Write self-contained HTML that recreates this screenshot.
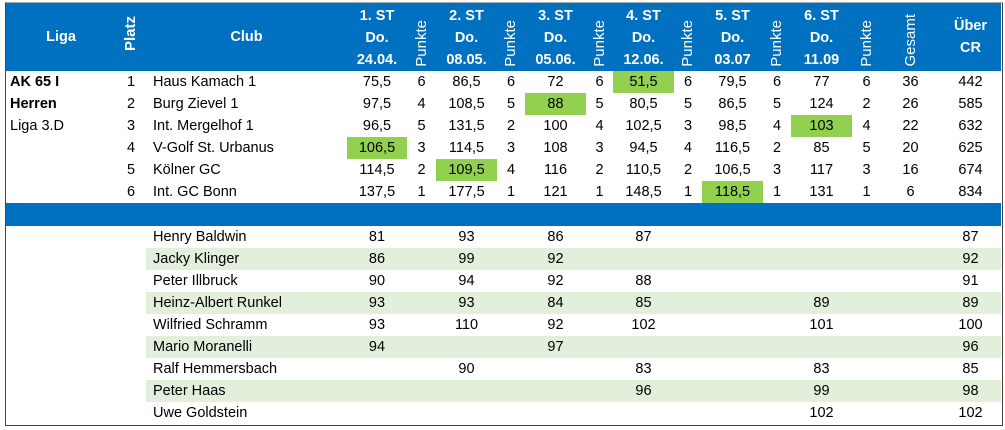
<!DOCTYPE html>
<html><head><meta charset="utf-8"><style>
body{margin:0;background:#fff;width:1005px;height:430px;overflow:hidden;font-family:"Liberation Sans",Arial,sans-serif;}
#f{position:absolute;left:5px;top:2px;width:996px;height:422px;border:1px solid #444;border-top-color:#aaa;}
table{position:absolute;left:6px;top:3px;border-collapse:collapse;table-layout:fixed;width:995px;font-size:14.5px;color:#000;}
td{padding:0;text-align:center;height:22px;line-height:22px;white-space:nowrap;overflow:hidden;}
tr.h td{background:#0070c0;color:#fff;font-weight:bold;height:68px;line-height:22px;vertical-align:bottom;overflow:hidden;}
.v{display:inline-block;writing-mode:vertical-rl;transform:rotate(180deg);font-weight:normal;font-size:15px;line-height:20px;white-space:nowrap;}
tr.h td.vc{vertical-align:middle;}
tr.h td.vb{vertical-align:bottom;padding-bottom:4px;line-height:0;height:64px;}
tr.b td{background:#0070c0;height:23px;}
td.l{text-align:left;padding-left:4px;}
td.c{text-align:left;padding-left:7px;}
.g{background:#92d050;}
tr.s td.x{background:#e2efda;}
</style></head><body>
<div id="f"></div>
<table>
<colgroup><col style="width:110px"><col style="width:30px"><col style="width:201px">
<col style="width:60px"><col style="width:29px"><col style="width:61px"><col style="width:28px"><col style="width:61px"><col style="width:27px"><col style="width:61px"><col style="width:28px"><col style="width:61px"><col style="width:28px"><col style="width:61px"><col style="width:29px"><col style="width:59px"><col style="width:61px"></colgroup>
<tr class="h"><td style="vertical-align:middle">Liga</td><td class="vc"><span class="v" style="font-weight:bold;font-size:15px">Platz</span></td><td style="vertical-align:middle">Club</td>
<td>1. ST<br>Do.<br>24.04.</td><td class="vb"><span class="v">Punkte</span></td>
<td>2. ST<br>Do.<br>08.05.</td><td class="vb"><span class="v">Punkte</span></td>
<td>3. ST<br>Do.<br>05.06.</td><td class="vb"><span class="v">Punkte</span></td>
<td>4. ST<br>Do.<br>12.06.</td><td class="vb"><span class="v">Punkte</span></td>
<td>5. ST<br>Do.<br>03.07</td><td class="vb"><span class="v">Punkte</span></td>
<td>6. ST<br>Do.<br>11.09</td><td class="vb"><span class="v">Punkte</span></td>
<td class="vb"><span class="v">Gesamt</span></td><td style="vertical-align:middle">Über<br>CR</td></tr>
<tr><td class="l"><b>AK 65 I</b></td><td>1</td><td class="c">Haus Kamach 1</td><td>75,5</td><td>6</td><td>86,5</td><td>6</td><td>72</td><td>6</td><td class="g">51,5</td><td>6</td><td>79,5</td><td>6</td><td>77</td><td>6</td><td>36</td><td>442</td></tr>
<tr><td class="l"><b>Herren</b></td><td>2</td><td class="c">Burg Zievel 1</td><td>97,5</td><td>4</td><td>108,5</td><td>5</td><td class="g">88</td><td>5</td><td>80,5</td><td>5</td><td>86,5</td><td>5</td><td>124</td><td>2</td><td>26</td><td>585</td></tr>
<tr><td class="l">Liga 3.D</td><td>3</td><td class="c">Int. Mergelhof 1</td><td>96,5</td><td>5</td><td>131,5</td><td>2</td><td>100</td><td>4</td><td>102,5</td><td>3</td><td>98,5</td><td>4</td><td class="g">103</td><td>4</td><td>22</td><td>632</td></tr>
<tr><td></td><td>4</td><td class="c">V-Golf St. Urbanus</td><td class="g">106,5</td><td>3</td><td>114,5</td><td>3</td><td>108</td><td>3</td><td>94,5</td><td>4</td><td>116,5</td><td>2</td><td>85</td><td>5</td><td>20</td><td>625</td></tr>
<tr><td></td><td>5</td><td class="c">Kölner GC</td><td>114,5</td><td>2</td><td class="g">109,5</td><td>4</td><td>116</td><td>2</td><td>110,5</td><td>2</td><td>106,5</td><td>3</td><td>117</td><td>3</td><td>16</td><td>674</td></tr>
<tr><td></td><td>6</td><td class="c">Int. GC Bonn</td><td>137,5</td><td>1</td><td>177,5</td><td>1</td><td>121</td><td>1</td><td>148,5</td><td>1</td><td class="g">118,5</td><td>1</td><td>131</td><td>1</td><td>6</td><td>834</td></tr>
<tr class="b"><td colspan="17"></td></tr>
<tr><td></td><td></td><td class="c x">Henry Baldwin</td><td class="x">81</td><td class="x"></td><td class="x">93</td><td class="x"></td><td class="x">86</td><td class="x"></td><td class="x">87</td><td class="x"></td><td class="x"></td><td class="x"></td><td class="x"></td><td class="x"></td><td class="x"></td><td class="x">87</td></tr>
<tr class="s"><td></td><td></td><td class="c x">Jacky Klinger</td><td class="x">86</td><td class="x"></td><td class="x">99</td><td class="x"></td><td class="x">92</td><td class="x"></td><td class="x"></td><td class="x"></td><td class="x"></td><td class="x"></td><td class="x"></td><td class="x"></td><td class="x"></td><td class="x">92</td></tr>
<tr><td></td><td></td><td class="c x">Peter Illbruck</td><td class="x">90</td><td class="x"></td><td class="x">94</td><td class="x"></td><td class="x">92</td><td class="x"></td><td class="x">88</td><td class="x"></td><td class="x"></td><td class="x"></td><td class="x"></td><td class="x"></td><td class="x"></td><td class="x">91</td></tr>
<tr class="s"><td></td><td></td><td class="c x">Heinz-Albert Runkel</td><td class="x">93</td><td class="x"></td><td class="x">93</td><td class="x"></td><td class="x">84</td><td class="x"></td><td class="x">85</td><td class="x"></td><td class="x"></td><td class="x"></td><td class="x">89</td><td class="x"></td><td class="x"></td><td class="x">89</td></tr>
<tr><td></td><td></td><td class="c x">Wilfried Schramm</td><td class="x">93</td><td class="x"></td><td class="x">110</td><td class="x"></td><td class="x">92</td><td class="x"></td><td class="x">102</td><td class="x"></td><td class="x"></td><td class="x"></td><td class="x">101</td><td class="x"></td><td class="x"></td><td class="x">100</td></tr>
<tr class="s"><td></td><td></td><td class="c x">Mario Moranelli</td><td class="x">94</td><td class="x"></td><td class="x"></td><td class="x"></td><td class="x">97</td><td class="x"></td><td class="x"></td><td class="x"></td><td class="x"></td><td class="x"></td><td class="x"></td><td class="x"></td><td class="x"></td><td class="x">96</td></tr>
<tr><td></td><td></td><td class="c x">Ralf Hemmersbach</td><td class="x"></td><td class="x"></td><td class="x">90</td><td class="x"></td><td class="x"></td><td class="x"></td><td class="x">83</td><td class="x"></td><td class="x"></td><td class="x"></td><td class="x">83</td><td class="x"></td><td class="x"></td><td class="x">85</td></tr>
<tr class="s"><td></td><td></td><td class="c x">Peter Haas</td><td class="x"></td><td class="x"></td><td class="x"></td><td class="x"></td><td class="x"></td><td class="x"></td><td class="x">96</td><td class="x"></td><td class="x"></td><td class="x"></td><td class="x">99</td><td class="x"></td><td class="x"></td><td class="x">98</td></tr>
<tr><td></td><td></td><td class="c x">Uwe Goldstein</td><td class="x"></td><td class="x"></td><td class="x"></td><td class="x"></td><td class="x"></td><td class="x"></td><td class="x"></td><td class="x"></td><td class="x"></td><td class="x"></td><td class="x">102</td><td class="x"></td><td class="x"></td><td class="x">102</td></tr>
</table>
</body></html>
